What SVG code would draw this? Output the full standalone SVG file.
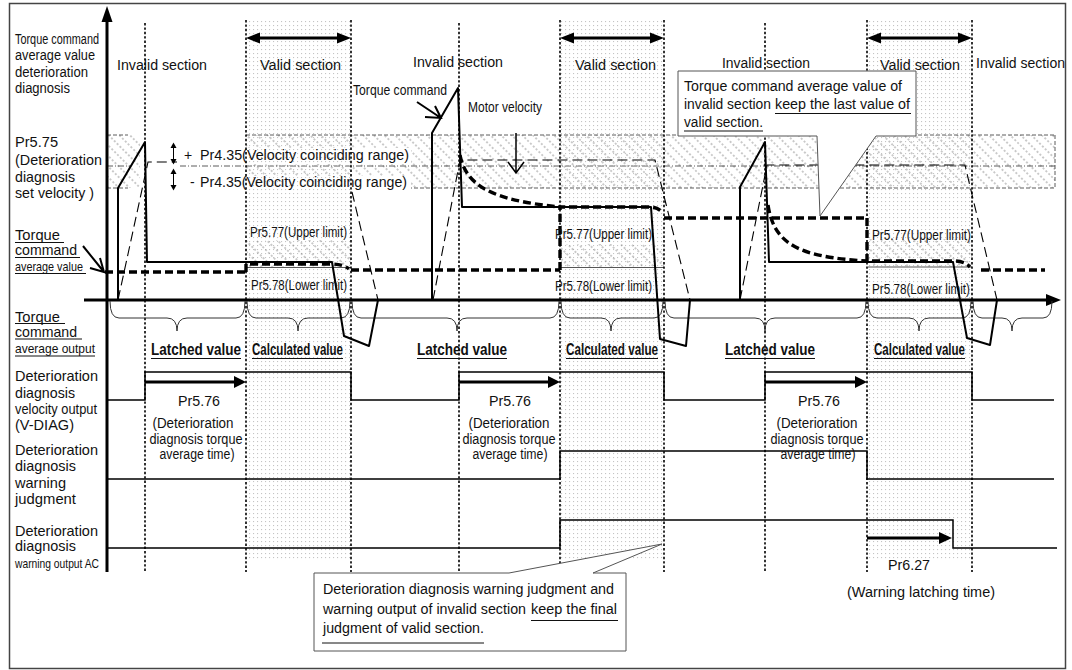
<svg xmlns="http://www.w3.org/2000/svg" width="1072" height="670" viewBox="0 0 1072 670">
<defs>
  <pattern id="dots" width="4" height="4" patternUnits="userSpaceOnUse">
    <rect x="1" y="1" width="1.1" height="1.1" fill="#c4c4c4"/>
  </pattern>
  <pattern id="hatch" width="8" height="7.5" patternUnits="userSpaceOnUse" patternTransform="rotate(45)">
    <line x1="0" y1="3.75" x2="8" y2="3.75" stroke="#6a6a6a" stroke-width="0.7" stroke-dasharray="2 2"/>
  </pattern>
  <style>
    text { font-family: "Liberation Sans", Arial, Helvetica, sans-serif; fill: #111; font-size: 14px; }
    .s13 { font-size: 14px; }
    .s12 { font-size: 13px; }
    .bold { font-size: 16px; font-weight: bold; }
    .mid { text-anchor: middle; }
    .sec { stroke: #000; stroke-width: 1.6; stroke-dasharray: 2.4 2; fill: none; }
    .band { stroke: #333; stroke-width: 0.8; stroke-dasharray: 4 2; fill: none; }
    .dashdot { stroke: #333; stroke-width: 0.8; stroke-dasharray: 6 2 1 2; fill: none; }
    .lim { stroke: #555; stroke-width: 1; fill: none; }
    .axis { stroke: #000; stroke-width: 3; fill: none; }
    .torque { stroke: #000; stroke-width: 2; fill: none; stroke-linejoin: round; }
    .vel { stroke: #000; stroke-width: 1.1; stroke-dasharray: 10 5; fill: none; }
    .avg { stroke: #000; stroke-width: 3.4; stroke-dasharray: 8 4; fill: none; }
    .sig { stroke: #000; stroke-width: 1.5; fill: none; }
    .thick { stroke: #000; stroke-width: 3; fill: none; }
    .brace { stroke: #333; stroke-width: 1; fill: none; }
    .ul { stroke: #111; stroke-width: 1; fill: none; }
    .ptr { stroke: #000; stroke-width: 2; fill: none; }
    .callout { fill: #fff; stroke: #555; stroke-width: 1; }
    .head { fill: #000; }
  </style>
</defs>

<rect width="1072" height="670" fill="#fff"/>
<rect x="9.5" y="3.5" width="1056" height="665" fill="none" stroke="#444" stroke-width="1.5"/>

<!-- velocity coinciding band around Pr5.75 -->
<g id="velocity-band">
  <rect x="107" y="135" width="33" height="53" fill="url(#hatch)"/>
  <rect x="246" y="135" width="809" height="53" fill="url(#hatch)"/>
  <path class="band" d="M107,135 H128 M107,188 H128 M246,135 H1055 M246,188 H1055"/>
  <path class="band" d="M1055,135 V188"/>
  <path class="dashdot" d="M107,166 H130 M180,166 H1055"/>
  <rect x="180" y="148" width="231" height="16" fill="#fff"/>
  <rect x="185" y="176" width="226" height="15" fill="#fff"/>
</g>

<!-- valid sections (dotted shading) -->
<g id="valid-shading" fill="url(#dots)">
  <rect x="246" y="20" width="105" height="541"/>
  <rect x="560" y="20" width="104" height="541"/>
  <rect x="867" y="20" width="105" height="541"/>
</g>

<!-- torque average limits Pr5.77 / Pr5.78 -->
<g id="limit-bands">
  <rect x="247" y="240" width="104" height="27" fill="url(#hatch)"/>
  <rect x="561" y="244" width="103" height="23" fill="url(#hatch)"/>
  <rect x="868" y="239" width="104" height="28" fill="url(#hatch)"/>
  <path class="lim" d="M247,267.5 H351 M561,267.5 H664 M868,267 H972"/>
</g>

<!-- section boundaries -->
<g id="section-lines">
  <path class="sec" d="M145,23 V572 M459,23 V572 M765,23 V572"/>
  <path class="sec" d="M246,20 V572 M351,20 V572 M560,20 V572 M664,20 V572 M867,20 V572 M972,20 V572"/>
</g>

<!-- axes -->
<g id="axes">
  <line class="axis" x1="107" y1="20" x2="107" y2="572"/>
  <polygon class="head" points="107,6 101.5,22 112.5,22"/>
  <line class="axis" x1="84" y1="300" x2="1048" y2="300"/>
  <polygon class="head" points="1061,300 1046,294 1046,306"/>
</g>

<!-- valid section span arrows -->
<g id="valid-arrows">
  <line class="thick" x1="258" y1="38" x2="339" y2="38"/>
  <polygon class="head" points="246,38 260,32.5 260,43.5"/>
  <polygon class="head" points="351,38 337,32.5 337,43.5"/>
  <line class="thick" x1="572" y1="38" x2="652" y2="38"/>
  <polygon class="head" points="560,38 574,32.5 574,43.5"/>
  <polygon class="head" points="664,38 650,32.5 650,43.5"/>
  <line class="thick" x1="879" y1="38" x2="960" y2="38"/>
  <polygon class="head" points="867,38 881,32.5 881,43.5"/>
  <polygon class="head" points="972,38 958,32.5 958,43.5"/>
</g>

<!-- braces of the average output row -->
<g id="braces">
  <path class="brace" d="M110,301 Q110,318 119,318 H167 Q177,318 177,331 Q177,318 187,318 H236 Q245,318 245,301"/>
  <path class="brace" d="M247,301 Q247,318 256,318 H288 Q298,318 298,331 Q298,318 308,318 H341 Q350,318 350,301"/>
  <path class="brace" d="M352,301 Q352,318 361,318 H447 Q457,318 457,331 Q457,318 467,318 H550 Q559,318 559,301"/>
  <path class="brace" d="M561,301 Q561,318 570,318 H601 Q611,318 611,331 Q611,318 621,318 H654 Q663,318 663,301"/>
  <path class="brace" d="M665,301 Q665,318 674,318 H755 Q765,318 765,331 Q765,318 775,318 H857 Q866,318 866,301"/>
  <path class="brace" d="M868,301 Q868,318 877,318 H909 Q919,318 919,331 Q919,318 929,318 H962 Q971,318 971,301"/>
  <path class="brace" d="M973,301 Q973,318 982,318 H1002 Q1012,318 1012,331 Q1012,318 1022,318 H1043 Q1052,318 1052,301"/>
</g>

<!-- torque command average value -->
<g id="average">
  <path class="avg" d="M105,272 H246"/>
  <path class="avg" d="M246,272 V264 H330 Q343,264 349,269"/>
  <path class="avg" d="M351,270 H560"/>
  <path class="avg" d="M460,155 C466,185 490,200 560,207"/>
  <path class="avg" d="M560,270 V207 H650 Q658,207 663,213"/>
  <path class="avg" d="M664,218 H867"/>
  <path class="avg" d="M768,205 C774,245 800,257 867,261"/>
  <path class="avg" d="M867,218 V261 H955 Q964,261 970,267"/>
  <path class="avg" stroke-dasharray="19 18" d="M981,270 H1045"/>
</g>

<!-- motor velocity -->
<g id="velocity">
  <path class="vel" d="M118,300 L148,162 H177 M352,192 L378,300"/>
  <path class="vel" d="M433,300 L460,160 H655 L690,300"/>
  <path class="vel" d="M740,300 L767,165 H965 L997,300"/>
</g>

<!-- torque command -->
<g id="torque">
  <path class="torque" d="M118,300 V188 L145,142 L147,262 H332 L344,336 L369,346 L378,300"/>
  <path class="torque" d="M432,300 V133 L458,88 L462,207 H651 L660,339 L686,346 L690,300"/>
  <path class="torque" d="M740,300 V187 L765,142 L769,262 H953 L967,338 L990,345 L997,300"/>
</g>

<!-- digital outputs -->
<g id="signals">
  <path class="sig" d="M107,400 H145 V372 H351 V400 H459 V372 H664 V400 H765 V372 H972 V400 H1054"/>
  <path class="sig" d="M107,479 H560 V451 H867 V479 H1054"/>
  <path class="sig" d="M107,548 H560 V520 H953 V548 H1057"/>
</g>

<!-- timer arrows -->
<g id="timers">
  <line class="thick" x1="145" y1="382" x2="235" y2="382"/>
  <polygon class="head" points="234,376 246,382 234,388"/>
  <line class="thick" x1="459" y1="382" x2="549" y2="382"/>
  <polygon class="head" points="548,376 560,382 548,388"/>
  <line class="thick" x1="765" y1="382" x2="856" y2="382"/>
  <polygon class="head" points="855,376 867,382 855,388"/>
  <line class="thick" x1="867" y1="538" x2="940" y2="538"/>
  <polygon class="head" points="939,532 952,538 939,544"/>
</g>

<!-- pointer arrows -->
<g id="pointers">
  <path class="ptr" d="M83,246 L104,272 M90,268 L104,272 L100,258"/>
  <path class="ptr" d="M417,102 L441,118 M425,117 L441,118 L435,106"/>
  <path class="sig" d="M516,133 V173 M508,162 L516,173 L524,162"/>
  <path stroke="#000" stroke-width="1" d="M173.5,147 V160 M173.5,173 V186"/>
  <polygon class="head" points="173.5,142.5 170.5,148 176.5,148"/>
  <polygon class="head" points="173.5,164.5 170.5,159 176.5,159"/>
  <polygon class="head" points="173.5,168.5 170.5,174 176.5,174"/>
  <polygon class="head" points="173.5,190.5 170.5,185 176.5,185"/>
</g>

<!-- left-hand row titles -->
<g id="row-titles">
  <text class="s13" x="15" y="43.5" textLength="84" lengthAdjust="spacingAndGlyphs">Torque command</text>
  <text class="s13" x="15" y="60" textLength="80" lengthAdjust="spacingAndGlyphs">average value</text>
  <text class="s13" x="15" y="76.5" textLength="73" lengthAdjust="spacingAndGlyphs">deterioration</text>
  <text class="s13" x="15" y="93" textLength="55" lengthAdjust="spacingAndGlyphs">diagnosis</text>

  <text x="15" y="147" textLength="43" lengthAdjust="spacingAndGlyphs" style="font-size:15px">Pr5.75</text>
  <text x="15" y="165" textLength="87" lengthAdjust="spacingAndGlyphs" style="font-size:15px">(Deterioration</text>
  <text x="15" y="181.5" textLength="60" lengthAdjust="spacingAndGlyphs" style="font-size:15px">diagnosis</text>
  <text x="15" y="197.5" textLength="79" lengthAdjust="spacingAndGlyphs" style="font-size:15px">set velocity )</text>

  <text x="15" y="240" textLength="45" lengthAdjust="spacingAndGlyphs" style="font-size:15px">Torque</text>
  <text x="15" y="255" textLength="62" lengthAdjust="spacingAndGlyphs" style="font-size:15px">command</text>
  <text class="s12" x="15" y="270.5" textLength="68" lengthAdjust="spacingAndGlyphs">average value</text>
  <path class="ul" d="M15,242.5 H64 M15,257.5 H80 M15,273.5 H86"/>

  <text x="15" y="321.5" textLength="45" lengthAdjust="spacingAndGlyphs" style="font-size:15px">Torque</text>
  <text x="15" y="336.5" textLength="62" lengthAdjust="spacingAndGlyphs" style="font-size:15px">command</text>
  <text class="s12" x="15" y="352.5" textLength="80" lengthAdjust="spacingAndGlyphs">average output</text>
  <path class="ul" d="M15,323.5 H65 M15,339 H82 M15,356 H95"/>

  <text x="15" y="381" textLength="83" lengthAdjust="spacingAndGlyphs" style="font-size:15px">Deterioration</text>
  <text x="15" y="397.5" textLength="60" lengthAdjust="spacingAndGlyphs" style="font-size:15px">diagnosis</text>
  <text x="15" y="413.5" textLength="82" lengthAdjust="spacingAndGlyphs" style="font-size:15px">velocity output</text>
  <text x="15" y="430" textLength="59" lengthAdjust="spacingAndGlyphs" style="font-size:15px">(V-DIAG)</text>

  <text x="15" y="455" textLength="83" lengthAdjust="spacingAndGlyphs" style="font-size:15px">Deterioration</text>
  <text x="15" y="471" textLength="61" lengthAdjust="spacingAndGlyphs" style="font-size:15px">diagnosis</text>
  <text x="15" y="487.5" textLength="51" lengthAdjust="spacingAndGlyphs" style="font-size:15px">warning</text>
  <text x="15" y="503.5" textLength="61" lengthAdjust="spacingAndGlyphs" style="font-size:15px">judgment</text>

  <text x="15" y="535.5" textLength="83" lengthAdjust="spacingAndGlyphs" style="font-size:15px">Deterioration</text>
  <text x="15" y="551" textLength="61" lengthAdjust="spacingAndGlyphs" style="font-size:15px">diagnosis</text>
  <text class="s12" x="15" y="567.5" textLength="84" lengthAdjust="spacingAndGlyphs">warning output AC</text>
</g>

<!-- section names -->
<g id="section-names">
  <text x="117" y="70" textLength="90" lengthAdjust="spacingAndGlyphs">Invalid section</text>
  <text x="260" y="69.5" textLength="81" lengthAdjust="spacingAndGlyphs">Valid section</text>
  <text x="413" y="67" textLength="90" lengthAdjust="spacingAndGlyphs">Invalid section</text>
  <text x="575" y="69.5" textLength="81" lengthAdjust="spacingAndGlyphs">Valid section</text>
  <text x="722" y="68" textLength="88" lengthAdjust="spacingAndGlyphs">Invalid section</text>
  <text x="880" y="69.5" textLength="80" lengthAdjust="spacingAndGlyphs">Valid section</text>
  <text x="976" y="68" textLength="89" lengthAdjust="spacingAndGlyphs">Invalid section</text>
</g>

<!-- waveform annotations -->
<g id="annotations">
  <text x="184" y="160">+</text>
  <text x="200" y="160" textLength="209" lengthAdjust="spacingAndGlyphs">Pr4.35(Velocity coinciding range)</text>
  <text x="190" y="187">-</text>
  <text x="200" y="187" textLength="207" lengthAdjust="spacingAndGlyphs">Pr4.35(Velocity coinciding range)</text>

  <text class="s13" x="353" y="94.5" textLength="94" lengthAdjust="spacingAndGlyphs">Torque command</text>
  <text class="s13" x="468" y="112" textLength="74" lengthAdjust="spacingAndGlyphs">Motor velocity</text>

  <text class="s13" x="250" y="237" textLength="97" lengthAdjust="spacingAndGlyphs">Pr5.77(Upper limit)</text>
  <text class="s13" x="555" y="239" textLength="97" lengthAdjust="spacingAndGlyphs">Pr5.77(Upper limit)</text>
  <text class="s13" x="872" y="240" textLength="99" lengthAdjust="spacingAndGlyphs">Pr5.77(Upper limit)</text>
  <text class="s13" x="251" y="290" textLength="96" lengthAdjust="spacingAndGlyphs">Pr5.78(Lower limit)</text>
  <text class="s13" x="555" y="291" textLength="97" lengthAdjust="spacingAndGlyphs">Pr5.78(Lower limit)</text>
  <text class="s13" x="872" y="293.5" textLength="98" lengthAdjust="spacingAndGlyphs">Pr5.78(Lower limit)</text>

  <text class="bold" x="151" y="355" textLength="90" lengthAdjust="spacingAndGlyphs">Latched value</text>
  <text class="bold" x="252" y="355" textLength="91" lengthAdjust="spacingAndGlyphs">Calculated value</text>
  <text class="bold" x="417" y="355" textLength="90" lengthAdjust="spacingAndGlyphs">Latched value</text>
  <text class="bold" x="566" y="355" textLength="92" lengthAdjust="spacingAndGlyphs">Calculated value</text>
  <text class="bold" x="725" y="355" textLength="90" lengthAdjust="spacingAndGlyphs">Latched value</text>
  <text class="bold" x="874" y="355" textLength="91" lengthAdjust="spacingAndGlyphs">Calculated value</text>
  <path class="ul" stroke-width="1.3" d="M151,358.5 H241 M252,358.5 H343 M417,358.5 H507 M566,358.5 H658 M725,358.5 H815 M874,358.5 H965"/>

  <text class="mid" x="199" y="405.5" textLength="42" lengthAdjust="spacingAndGlyphs" style="font-size:15px">Pr5.76</text>
  <text class="mid" x="193" y="428" textLength="81" lengthAdjust="spacingAndGlyphs">(Deterioration</text>
  <text class="mid" x="196" y="443.5" textLength="93" lengthAdjust="spacingAndGlyphs">diagnosis torque</text>
  <text class="mid" x="197" y="459" textLength="75" lengthAdjust="spacingAndGlyphs">average time)</text>

  <text class="mid" x="510" y="405.5" textLength="42" lengthAdjust="spacingAndGlyphs" style="font-size:15px">Pr5.76</text>
  <text class="mid" x="509" y="428" textLength="81" lengthAdjust="spacingAndGlyphs">(Deterioration</text>
  <text class="mid" x="509" y="443.5" textLength="93" lengthAdjust="spacingAndGlyphs">diagnosis torque</text>
  <text class="mid" x="510" y="459" textLength="75" lengthAdjust="spacingAndGlyphs">average time)</text>

  <text class="mid" x="819" y="405.5" textLength="42" lengthAdjust="spacingAndGlyphs" style="font-size:15px">Pr5.76</text>
  <text class="mid" x="817" y="428" textLength="81" lengthAdjust="spacingAndGlyphs">(Deterioration</text>
  <text class="mid" x="817" y="443.5" textLength="93" lengthAdjust="spacingAndGlyphs">diagnosis torque</text>
  <text class="mid" x="818" y="459" textLength="75" lengthAdjust="spacingAndGlyphs">average time)</text>

  <text class="mid" x="909" y="570" textLength="42" lengthAdjust="spacingAndGlyphs" style="font-size:15px">Pr6.27</text>
  <text class="mid" x="921" y="597" textLength="148" lengthAdjust="spacingAndGlyphs">(Warning latching time)</text>
</g>

<!-- note on the latched average value -->
<g id="note-average">
  <polygon class="callout" points="678,71 916,71 916,136 876,136 820,216 817,136 678,136"/>
  <text x="684" y="91" textLength="218" lengthAdjust="spacingAndGlyphs">Torque command average value of</text>
  <text x="684" y="109" textLength="87" lengthAdjust="spacingAndGlyphs">invalid section</text>
  <text x="775" y="109" textLength="135" lengthAdjust="spacingAndGlyphs">keep the last value of</text>
  <text x="684" y="127" textLength="79" lengthAdjust="spacingAndGlyphs">valid section.</text>
  <path class="ul" d="M775,113.5 H911 M684,131 H763"/>
</g>

<!-- note on the latched warning judgment -->
<g id="note-warning">
  <polygon class="callout" points="314,573 509,573 662,544 593,573 626,573 626,651 314,651"/>
  <text x="323" y="594" textLength="291" lengthAdjust="spacingAndGlyphs">Deterioration diagnosis warning judgment and</text>
  <text x="323" y="614" textLength="203" lengthAdjust="spacingAndGlyphs">warning output of invalid section</text>
  <text x="531" y="614" textLength="86" lengthAdjust="spacingAndGlyphs">keep the final</text>
  <text x="323" y="633" textLength="161" lengthAdjust="spacingAndGlyphs">judgment of valid section.</text>
  <path class="ul" d="M531,620.5 H618 M322,643 H484"/>
</g>
</svg>
